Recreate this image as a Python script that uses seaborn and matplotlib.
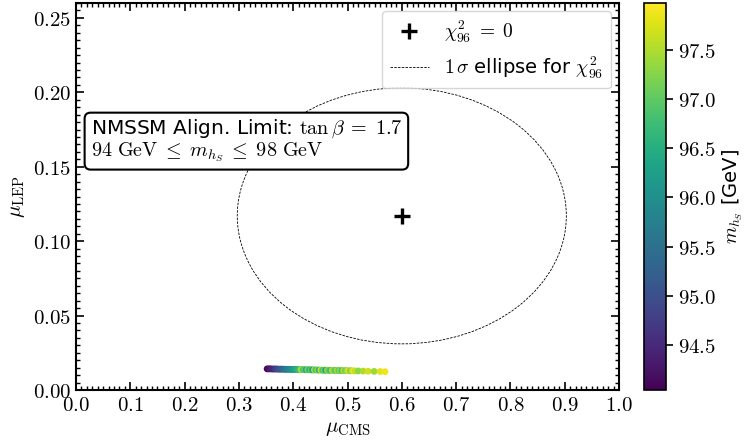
import matplotlib
matplotlib.use('Agg')
import matplotlib.pyplot as plt
import seaborn as sns
import pandas as pd
import numpy as np
from matplotlib.patches import Ellipse
from matplotlib.lines import Line2D
from matplotlib.ticker import MultipleLocator, AutoMinorLocator, FormatStrFormatter

# scan points (NMSSM alignment limit, tan beta = 1.7)
mu_cms = [0.352, 0.355, 0.358, 0.361, 0.364, 0.367, 0.370, 0.373, 0.376, 0.379,
          0.382, 0.385, 0.388, 0.391, 0.394, 0.397, 0.400, 0.403, 0.406, 0.409,
          0.412, 0.415, 0.418, 0.421, 0.424, 0.427, 0.430, 0.433, 0.436, 0.439,
          0.442, 0.445, 0.448, 0.451, 0.454, 0.457, 0.460, 0.463, 0.466, 0.469,
          0.472, 0.475, 0.478, 0.481, 0.484, 0.487, 0.490, 0.493, 0.496, 0.499,
          0.502, 0.505, 0.508, 0.511, 0.514, 0.520, 0.529, 0.538, 0.549, 0.560,
          0.569]
mu_lep = [0.0142, 0.0142, 0.0142, 0.0141, 0.0141, 0.0141, 0.0141, 0.0140, 0.0140, 0.0140,
          0.0140, 0.0139, 0.0139, 0.0139, 0.0139, 0.0138, 0.0138, 0.0138, 0.0138, 0.0137,
          0.0137, 0.0137, 0.0137, 0.0136, 0.0136, 0.0136, 0.0136, 0.0135, 0.0135, 0.0135,
          0.0135, 0.0134, 0.0134, 0.0134, 0.0133, 0.0133, 0.0133, 0.0133, 0.0132, 0.0132,
          0.0132, 0.0132, 0.0131, 0.0131, 0.0131, 0.0131, 0.0130, 0.0130, 0.0130, 0.0130,
          0.0129, 0.0129, 0.0129, 0.0128, 0.0128, 0.0128, 0.0127, 0.0126, 0.0125, 0.0124,
          0.0123]
m_hs = [94.1, 94.2, 94.3, 94.4, 94.5, 94.7, 94.8, 95.0, 95.1, 95.2,
        95.4, 95.5, 95.6, 95.8, 95.9, 96.0, 96.2, 96.3, 96.5, 96.6,
        96.8, 97.6, 96.9, 97.0, 96.4, 97.2, 96.6, 97.0, 96.2, 97.5,
        96.8, 97.3, 96.5, 97.7, 96.9, 97.1, 96.3, 97.4, 97.0, 96.7,
        97.6, 97.2, 96.9, 97.5, 97.0, 97.3, 96.8, 97.6, 97.1, 97.4,
        97.8, 97.2, 97.5, 97.9, 97.6, 97.3, 97.5, 97.7, 97.4, 97.8,
        97.9]

# best fit point and 1 sigma ellipse of chi2_96
best_fit = (0.6, 0.117)
ellipse_width = 0.606
ellipse_height = 0.172

m_min, m_max = 94.04, 97.98

df = pd.DataFrame({'mu_cms': mu_cms, 'mu_lep': mu_lep, 'm_hs': m_hs})

sns.set_style('ticks')
plt.rcParams['font.family'] = ['DejaVu Sans']
plt.rcParams['mathtext.fontset'] = 'cm'
plt.rcParams['text.color'] = 'black'
plt.rcParams['axes.labelcolor'] = 'black'
plt.rcParams['xtick.color'] = 'black'
plt.rcParams['ytick.color'] = 'black'
plt.rcParams['axes.edgecolor'] = 'black'

fig = plt.figure(figsize=(7.49, 4.42), dpi=100)
ax = fig.add_axes([76 / 749, 52 / 442, 543 / 749, 387 / 442])
cax = fig.add_axes([644 / 749, 52 / 442, 22 / 749, 387 / 442])

sns.scatterplot(data=df, x='mu_cms', y='mu_lep', hue='m_hs',
                palette='viridis', hue_norm=(m_min, m_max),
                s=24, linewidth=0, legend=False, ax=ax, zorder=3)

ax.plot(*best_fit, marker='+', color='black', ms=11, mew=2.4, ls='none')
ax.add_patch(Ellipse(best_fit, ellipse_width, ellipse_height, fill=False,
                     edgecolor='black', lw=0.6, ls=(0, (3, 1.5))))

ax.set_xlim(0.0, 1.0)
ax.set_ylim(0.0, 0.26)
ax.xaxis.set_major_locator(MultipleLocator(0.1))
ax.yaxis.set_major_locator(MultipleLocator(0.05))
ax.xaxis.set_major_formatter(FormatStrFormatter('$%.1f$'))
ax.yaxis.set_major_formatter(FormatStrFormatter('$%.2f$'))
ax.xaxis.set_minor_locator(AutoMinorLocator(10))
ax.yaxis.set_minor_locator(AutoMinorLocator(10))
ax.tick_params(which='both', direction='in', top=True, right=True, labelsize=15)
ax.tick_params(which='major', length=6, width=1.2)
ax.tick_params(which='minor', length=3, width=1.0)
for sp in ax.spines.values():
    sp.set_linewidth(1.5)
ax.set_xlabel(r'$\mu_{\rm CMS}$', fontsize=15, labelpad=2)
ax.set_ylabel(r'$\mu_{\rm LEP}$', fontsize=15, labelpad=4)

handles = [Line2D([], [], marker='+', color='black', ms=11, mew=2.4, ls='none'),
           Line2D([], [], color='black', lw=0.6, ls=(0, (3, 1.5)))]
labels = [r'$\chi^2_{96} \;=\; 0$', r'$1\,\sigma$ ellipse for $\chi^2_{96}$']
ax.legend(handles, labels, loc='upper right', fontsize=14, frameon=True,
          borderaxespad=0.4)

ax.text(0.027, 0.705,
        'NMSSM Align. Limit: $\\tan\\beta \\;=\\; 1.7$\n'
        '$94\\ \\mathrm{GeV} \\;\\leq\\; m_{h_S} \\;\\leq\\; 98\\ \\mathrm{GeV}$',
        transform=ax.transAxes, fontsize=14.5, va='top', ha='left', linespacing=1.0,
        bbox=dict(boxstyle='round,pad=0.3', facecolor='white', edgecolor='black', lw=1.5))

sm = plt.cm.ScalarMappable(cmap='viridis', norm=plt.Normalize(m_min, m_max))
cb = fig.colorbar(sm, cax=cax)
cb.set_ticks([94.5, 95.0, 95.5, 96.0, 96.5, 97.0, 97.5])
cb.ax.yaxis.set_major_formatter(FormatStrFormatter('$%.1f$'))
cb.ax.tick_params(labelsize=15, length=5, width=1.2)
cb.outline.set_linewidth(1.2)
cb.set_label(r'$m_{h_S}$ [GeV]', fontsize=14, labelpad=3)

fig.savefig('out.png', dpi=100)
